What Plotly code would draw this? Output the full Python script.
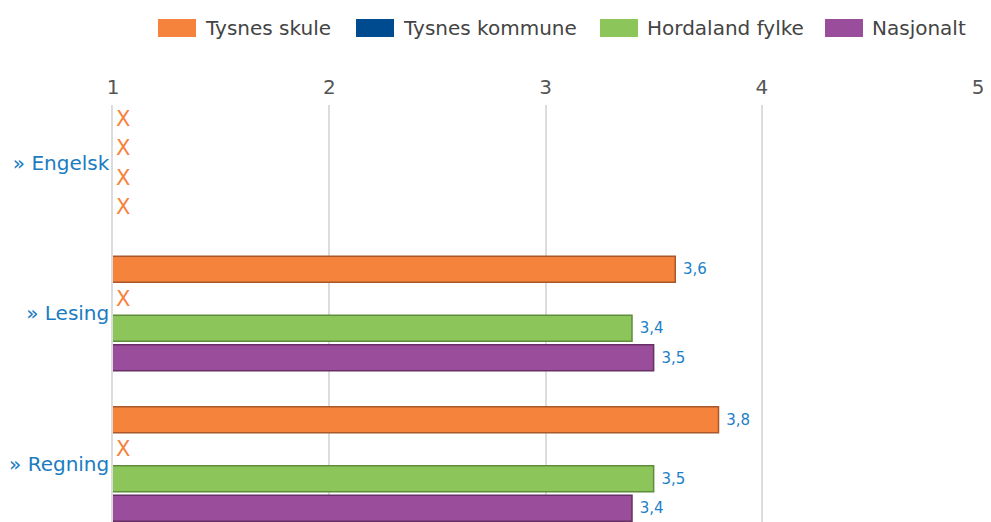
import plotly.graph_objects as go

categories = ["» Engelsk", "» Lesing", "» Regning"]
series_names = ["Tysnes skule", "Tysnes kommune", "Hordaland fylke", "Nasjonalt"]
tysnes_skule = [None, 3.6, 3.8]
tysnes_kommune = [None, None, None]
hordaland_fylke = [None, 3.4, 3.5]
nasjonalt = [None, 3.5, 3.4]
x_ticks = [1, 2, 3, 4, 5]

colors = ["#F5833B", "#004A8F", "#8CC65A", "#9A4D9A"]
edges = ["#A8582A", "#00306A", "#5F8C3A", "#663066"]
label_blue = "#1B80C8"
FONT = "DejaVu Sans"
axis_min = x_ticks[0]

# page body has an 8px default margin; figure sized to fit the 991x522 window
OFF = 8
W, H = 991 - OFF, 522 - OFF
ML, MR, MT, MB = 113 - OFF, 13, 105 - OFF, 0

fig = go.Figure()
for name, vals, col, edge in zip(series_names,
                                 [tysnes_skule, tysnes_kommune, hordaland_fylke, nasjonalt],
                                 colors, edges):
    xs, texts, tcols, lw, tsize = [], [], [], [], []
    for v in vals:
        if v is None:
            xs.append(axis_min)
            texts.append("X")
            tcols.append("#F5833B")
            lw.append(0)
            tsize.append(21)
        else:
            xs.append(v)
            texts.append(" " + f"{v:.1f}".replace(".", ","))
            tcols.append(label_blue)
            lw.append(1.5)
            tsize.append(15)
    fig.add_trace(go.Bar(
        name=name, y=categories, x=xs, orientation="h",
        marker=dict(color=col, line=dict(color=edge, width=lw)),
        text=texts, textposition="outside",
        textfont=dict(color=tcols, size=tsize, family=FONT),
        hoverinfo="skip", showlegend=False,
    ))

# Legend drawn as layout shapes + annotations (screen-pixel anchors converted to paper coords)
legend_swatch_left = [158, 356, 600, 825]
legend_y = 28
pw, ph = W - ML - MR, H - MT - MB
def px(x):
    return (x - OFF - ML) / pw
def py(y):
    return (H - MB - (y - OFF)) / ph
shapes, annots = [], []
for name, col, sx in zip(series_names, colors, legend_swatch_left):
    shapes.append(dict(type="rect", xref="paper", yref="paper",
                       x0=px(sx), x1=px(sx + 38), y0=py(legend_y - 9), y1=py(legend_y + 9),
                       fillcolor=col, line=dict(width=0), layer="above"))
    annots.append(dict(xref="paper", yref="paper", x=px(sx + 45), y=py(legend_y),
                       text=name, showarrow=False, xanchor="left", yanchor="middle",
                       font=dict(size=20, color="#444444", family=FONT)))

fig.update_layout(
    width=W, height=H,
    margin=dict(l=ML, r=MR, t=MT, b=MB),
    paper_bgcolor="white", plot_bgcolor="white",
    barmode="group", bargap=0.216, bargroupgap=0.12,
    font=dict(family=FONT, color="#444444"),
    showlegend=False,
    shapes=shapes, annotations=annots,
    xaxis=dict(side="top", range=[x_ticks[0], x_ticks[-1]], tickvals=x_ticks,
               ticktext=[str(t) for t in x_ticks], automargin=False,
               showgrid=True, gridcolor="#DCDCDC", gridwidth=1.5,
               zeroline=False, showline=False, ticks="", ticklabelstandoff=6,
               tickfont=dict(size=20, color="#555555")),
    yaxis=dict(type="category", categoryarray=categories, automargin=False,
               range=[2.386, -0.385], showgrid=False, zeroline=False,
               showline=True, linecolor="#DCDCDC", linewidth=1.5,
               ticks="", tickfont=dict(size=20, color="#1B7CC2"), ticklabelstandoff=-2),
)

fig.write_html("out.html")
